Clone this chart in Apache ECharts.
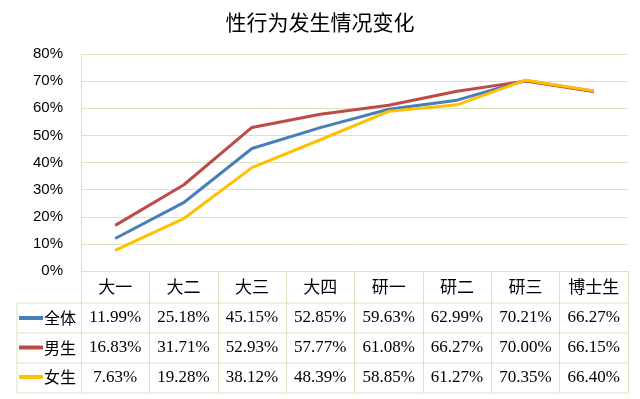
<!DOCTYPE html>
<html>
<head>
<meta charset="utf-8">
<script src="https://cdn.jsdelivr.net/npm/echarts@6/dist/echarts.min.js"></script>
<style>
  html, body { margin: 0; padding: 0; background: #fff; }
  #chart { width: 640px; height: 399px; }
</style>
</head>
<body>
<div id="chart"></div>
<script>
const title = '性行为发生情况变化'
const categories = ['大一', '大二', '大三', '大四', '研一', '研二', '研三', '博士生']
const seriesNames = ['全体', '男生', '女生']
const allValues = [11.99, 25.18, 45.15, 52.85, 59.63, 62.99, 70.21, 66.27]
const maleValues = [16.83, 31.71, 52.93, 57.77, 61.08, 66.27, 70.00, 66.15]
const femaleValues = [7.63, 19.28, 38.12, 48.39, 58.85, 61.27, 70.35, 66.40]
const yTicks = { min: 0, max: 80, interval: 10 }

const colors = ['#4a7ebb', '#be4b48', '#ffc000']
const gridColor = '#d7e4bd'
const GRID = { left: 81, right: 12, top: 54, bottom: 128 }
const ROW_H = 30
const HEAD_H = 32
const TABLE_LEFT = 17

const chart = echarts.init(document.getElementById('chart'))
const W = 640, H = 399
const axisY = H - GRID.bottom
const rowsData = [allValues, maleValues, femaleValues]

// table rows as extra x axes under the plot
const rowAxes = rowsData.map((vals, i) => ({
  type: 'category',
  position: 'bottom',
  offset: HEAD_H + ROW_H * i,
  data: vals.map(v => v.toFixed(2) + '%'),
  axisLine: { show: false },
  axisTick: { show: false },
  axisLabel: {
    margin: 6,
    fontSize: 17,
    color: '#000',
    fontFamily: 'Liberation Serif'
  }
}))

// horizontal table borders
const tableLines = []
for (let i = 0; i <= 3; i++) {
  const y = axisY + HEAD_H + ROW_H * i
  tableLines.push({
    type: 'line',
    shape: { x1: TABLE_LEFT, y1: y, x2: W - GRID.right, y2: y },
    style: { stroke: gridColor, lineWidth: 1 }
  })
}
tableLines.push({
  type: 'line',
  shape: { x1: TABLE_LEFT, y1: axisY + HEAD_H, x2: TABLE_LEFT, y2: axisY + HEAD_H + ROW_H * 3 },
  style: { stroke: gridColor, lineWidth: 1 }
})

chart.setOption({
  animation: false,
  title: {
    text: title,
    left: 'center',
    top: 7,
    textStyle: { fontSize: 21, fontWeight: 'normal', color: '#000', fontFamily: 'Noto Sans CJK SC' }
  },
  legend: {
    data: seriesNames,
    orient: 'vertical',
    left: TABLE_LEFT + 2,
    top: axisY + HEAD_H + 7,
    padding: 0,
    itemWidth: 24,
    itemHeight: 4,
    itemGap: 13.5,
    icon: 'rect',
    textStyle: { fontSize: 16, color: '#000', fontFamily: 'Noto Sans CJK SC', padding: [0, 0, 0, -4] }
  },
  grid: { left: GRID.left, right: GRID.right, top: GRID.top, bottom: GRID.bottom },
  xAxis: [
    {
      type: 'category',
      data: categories,
      axisLine: { show: true, lineStyle: { color: gridColor } },
      axisTick: { show: true, length: HEAD_H + ROW_H * 3, lineStyle: { color: gridColor } },
      axisLabel: { margin: 7, fontSize: 17, color: '#000', fontFamily: 'Noto Sans CJK SC' }
    },
    ...rowAxes
  ],
  yAxis: {
    type: 'value',
    min: yTicks.min,
    max: yTicks.max,
    interval: yTicks.interval,
    axisLine: { show: true, lineStyle: { color: gridColor } },
    axisTick: { show: false },
    splitLine: { lineStyle: { color: gridColor } },
    axisLabel: { formatter: '{value}%', margin: 18, fontSize: 15, color: '#000', fontFamily: 'Liberation Sans' }
  },
  graphic: tableLines,
  series: rowsData.map((vals, i) => ({
    name: seriesNames[i],
    type: 'line',
    data: vals,
    symbol: 'none',
    color: colors[i],
    lineStyle: { width: 3, color: colors[i] }
  }))
})
</script>
</body>
</html>
